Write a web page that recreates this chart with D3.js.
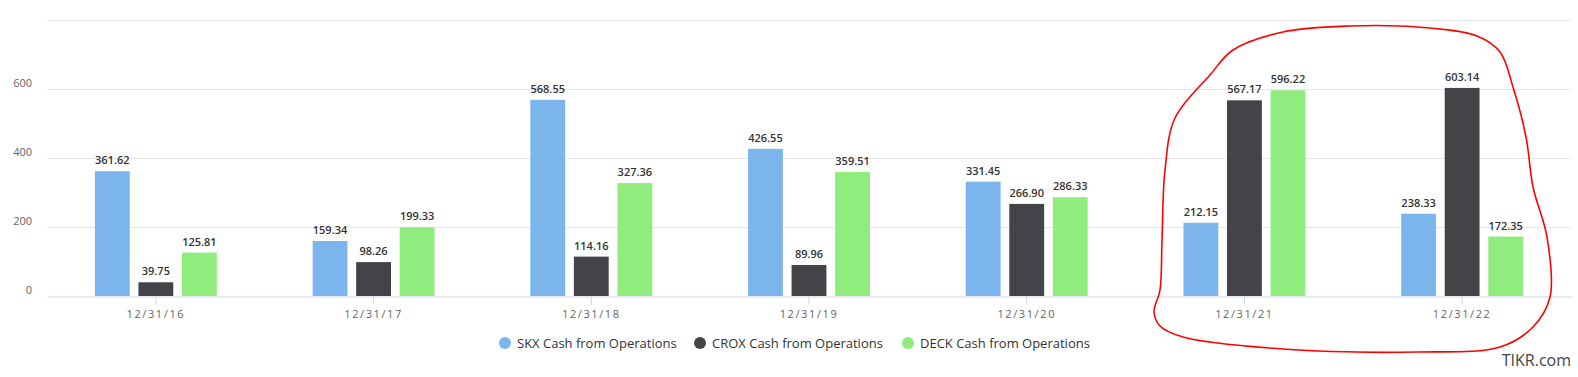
<!DOCTYPE html>
<html>
<head>
<meta charset="utf-8">
<script src="https://cdn.jsdelivr.net/npm/d3@7"></script>
<style>
  body { margin: 0; background: #fff; }
  svg { display: block; font-family: "Open Sans", "DejaVu Sans", sans-serif; }
</style>
</head>
<body>
<div id="chart"></div>
<script>
// data -------------------------------------------------
var periods = ['12/31/16', '12/31/17', '12/31/18', '12/31/19', '12/31/20', '12/31/21', '12/31/22'];
var seriesNames = ['SKX Cash from Operations', 'CROX Cash from Operations', 'DECK Cash from Operations'];
var skx = [361.62, 159.34, 568.55, 426.55, 331.45, 212.15, 238.33];
var crox = [39.75, 98.26, 114.16, 89.96, 266.90, 567.17, 603.14];
var deck = [125.81, 199.33, 327.36, 359.51, 286.33, 596.22, 172.35];
var yTicks = [0, 200, 400, 600, 800];
var colors = ['#7cb5ec', '#434348', '#90ed7d'];

var width = 1578, height = 377;
var margin = { left: 47, right: 7, top: 20, bottom: 81 };

var svg = d3.select('#chart').append('svg')
  .attr('width', width)
  .attr('height', height);

var x0 = d3.scaleBand()
  .domain(periods)
  .range([margin.left, width - margin.right])
  .paddingInner(0)
  .paddingOuter(0);

var groupW = x0.bandwidth() * 0.56;
var x1 = d3.scaleBand()
  .domain(d3.range(seriesNames.length))
  .range([0, groupW])
  .paddingInner(0.2)
  .paddingOuter(0);

var y = d3.scaleLinear()
  .domain([0, 800])
  .range([height - margin.bottom, margin.top]);

// gridlines
svg.append('g')
  .selectAll('line')
  .data(yTicks.slice(1))
  .enter()
  .append('line')
  .attr('x1', margin.left)
  .attr('x2', width - margin.right)
  .attr('y1', function (d) { return Math.round(y(d)) + 0.5; })
  .attr('y2', function (d) { return Math.round(y(d)) + 0.5; })
  .attr('stroke', '#e6e6e6')
  .attr('stroke-width', 1);

// y labels (800 not shown)
svg.append('g')
  .selectAll('text')
  .data(yTicks.slice(0, 4))
  .enter()
  .append('text')
  .attr('x', 32)
  .attr('y', function (d) { return y(d) - 2; })
  .attr('text-anchor', 'end')
  .attr('font-size', 11)
  .attr('fill', '#666')
  .text(function (d) { return d; });

// bars
var rows = periods.map(function (p, i) {
  return { period: p, values: [skx[i], crox[i], deck[i]] };
});

var groups = svg.append('g')
  .selectAll('g')
  .data(rows)
  .enter()
  .append('g')
  .attr('transform', function (d) {
    return 'translate(' + (x0(d.period) + (x0.bandwidth() - groupW) / 2) + ',0)';
  });

groups.selectAll('rect')
  .data(function (d) { return d.values; })
  .enter()
  .append('rect')
  .attr('x', function (d, i) { return x1(i); })
  .attr('y', function (d) { return y(d); })
  .attr('width', x1.bandwidth())
  .attr('height', function (d) { return y(0) - y(d); })
  .attr('fill', function (d, i) { return colors[i]; });

groups.selectAll('text')
  .data(function (d) { return d.values; })
  .enter()
  .append('text')
  .attr('x', function (d, i) { return x1(i) + x1.bandwidth() / 2; })
  .attr('y', function (d) { return y(d) - 7; })
  .attr('text-anchor', 'middle')
  .attr('font-size', 11)
  .attr('font-weight', 600)
  .attr('fill', '#333')
  .text(function (d) { return d.toFixed(2); });

// x axis
var xAxis = svg.append('g')
  .attr('transform', 'translate(0,' + (y(0) + 0.5) + ')')
  .call(d3.axisBottom(x0).tickSize(8).tickSizeOuter(0).tickPadding(6));
xAxis.select('.domain').attr('stroke', '#ccd6eb');
xAxis.selectAll('.tick line').attr('stroke', '#ccd6eb');
xAxis.selectAll('.tick text')
  .attr('font-size', 11)
  .attr('font-family', '"Open Sans", "DejaVu Sans", sans-serif')
  .attr('letter-spacing', 1.6)
  .attr('fill', '#666');

// legend
var legendX = [505, 700, 908];
var legend = svg.append('g')
  .selectAll('g')
  .data(seriesNames)
  .enter()
  .append('g')
  .attr('transform', function (d, i) { return 'translate(' + legendX[i] + ',343)'; });
legend.append('circle')
  .attr('r', 6)
  .attr('fill', function (d, i) { return colors[i]; });
legend.append('text')
  .attr('x', 12)
  .attr('y', 5)
  .attr('font-size', 13)
  .attr('fill', '#333')
  .text(function (d) { return d; });

// watermark
svg.append('text')
  .attr('x', 1571)
  .attr('y', 366)
  .attr('text-anchor', 'end')
  .attr('font-size', 16)
  .attr('fill', '#444')
  .text('TIKR.com');

// hand-drawn red annotation round the last two periods
var loop = [
  [1350, 26], [1283, 32], [1233, 50], [1210, 75], [1175, 118], [1165, 170],
  [1162, 240], [1160, 290], [1154, 312], [1160, 326], [1183, 337], [1283, 349],
  [1417, 352], [1500, 347], [1533, 327], [1550, 297], [1547, 237], [1533, 187],
  [1526, 137], [1513, 87], [1500, 52], [1477, 36], [1417, 27]
];
svg.append('path')
  .attr('d', d3.line().curve(d3.curveCatmullRomClosed.alpha(0.5))(loop))
  .attr('fill', 'none')
  .attr('stroke', '#f00')
  .attr('stroke-width', 1.6);
</script>
</body>
</html>
